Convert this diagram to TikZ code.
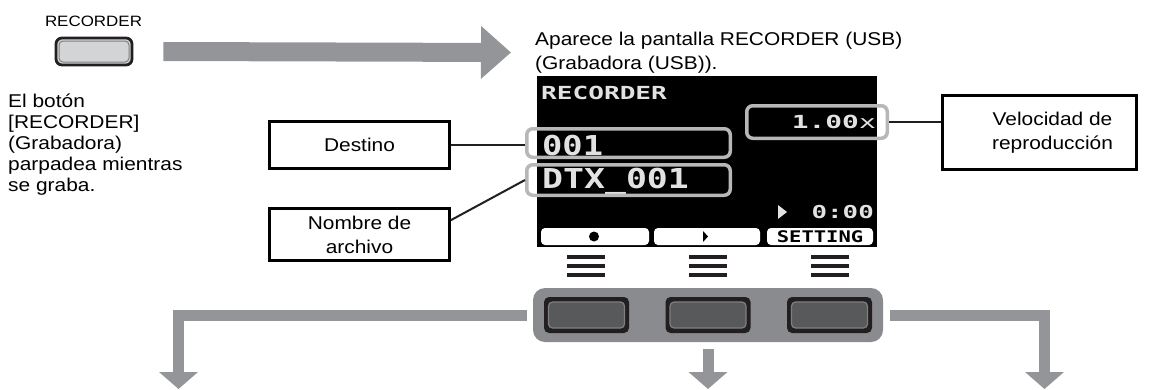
\documentclass[tikz,border=0pt]{standalone}
\usepackage{fontspec}
\usepackage{graphicx}
\setmainfont{Liberation Sans}[FakeStretch=1.13]
\newfontfamily\scrfont{DejaVu Sans Mono}
\usetikzlibrary{arrows.meta}
\definecolor{arrowgray}{HTML}{939598}
\definecolor{panelgray}{HTML}{8A8B8E}
\definecolor{scrtext}{HTML}{E2E2E2}
\definecolor{outl}{HTML}{B7B7B7}
\definecolor{btnface}{HTML}{58595B}
\definecolor{btnedge}{HTML}{7E7F81}
\definecolor{ink}{HTML}{231F20}
\definecolor{reclight}{HTML}{D3D4D6}
\newcommand{\sx}[2]{\scalebox{#1}[1]{#2}}
\begin{document}
\begin{tikzpicture}[x=1pt,y=-1pt,
  txt/.style={inner sep=0pt, font=\fontsize{18.5}{21}\selectfont},
  lbl/.style={draw=black, line width=2.6pt, align=center, inner sep=0pt,
    font=\fontsize{18.5}{24}\selectfont},
  conn/.style={draw=ink, line width=2pt},
  flow/.style={draw=arrowgray, line width=11pt, line join=miter,
    -{Triangle[width=38pt,length=17pt]}},
  hl/.style={draw=outl, line width=3.5pt, rounded corners=6pt, inner sep=0pt},
  scr/.style={inner sep=0pt, text=scrtext},
  tab/.style={fill=white, rounded corners=4pt, inner sep=0pt, minimum height=17pt},
  hwbtn/.style={fill=ink, rounded corners=5pt, minimum width=85pt, minimum height=36pt, inner sep=0pt},
  hwface/.style={fill=btnface, draw=btnedge, line width=1.2pt, rounded corners=4pt,
    minimum width=76pt, minimum height=26pt, inner sep=0pt},
  bars/.style={line width=3.7pt, draw=ink}
]
\useasboundingbox (0,0) rectangle (1159,389);

% recorder button
\node[txt, anchor=base, font=\fontsize{15}{18}\selectfont] (reclbl) at (93.5,26.7) {RECORDER};
\node[draw=ink, line width=2.8pt, fill=reclight, rounded corners=6pt,
  minimum width=76pt, minimum height=27pt, inner sep=0pt] (rec) at (94,51.5) {};
\node[draw=gray, line width=1pt, rounded corners=4pt,
  minimum width=70pt, minimum height=21pt, inner sep=0pt] (recin) at (94,51.5) {};

\foreach \t [count=\i] in {El botón, {[RECORDER]}, (Grabadora), parpadea mientras, se graba.}
  \node[txt, anchor=base west] (d\i) at (8, 107.5+21*\i-21) {\t};

% top arrow
\coordinate (tipT) at (511,52.5);
\draw[draw=arrowgray, line width=19pt, -{Triangle[width=51pt,length=30pt]}]
  ([xshift=30pt]rec.east) -- (tipT);

% caption
\node[txt, anchor=base west] (cap1) at (535,45) {Aparece la pantalla RECORDER (USB)};
\node[txt, anchor=base west] (cap2) at (535,69.5) {(Grabadora (USB)).};

% screen
\node[fill=black, minimum width=340pt, minimum height=171pt, inner sep=0pt] (screen) at (707,161.5) {};
\node[scr, anchor=base west, font=\scrfont\bfseries\fontsize{18}{20}\selectfont] (sTitle) at (541,99.3) {\sx{1.45}{RECORDER}};
\node[scr, anchor=base east, font=\scrfont\fontsize{18}{20}\selectfont] (sSpeed) at (876,128) {\sx{1.55}{\textbf{1.00}x}};
\node[scr, anchor=base west, font=\scrfont\bfseries\fontsize{27.4}{30}\selectfont] (sDest) at (542,155) {\sx{1.23}{001}};
\node[scr, anchor=base west, font=\scrfont\bfseries\fontsize{27.4}{30}\selectfont] (sName) at (542,188) {\sx{1.27}{DTX\_001}};
\node[scr, anchor=base east, font=\scrfont\bfseries\fontsize{17.8}{20}\selectfont] (sTime) at (874,218) {\sx{1.45}{0:00}};
\fill[scrtext] (778,205) -- (787,212) -- (778,219) -- cycle;

% soft tabs
\node[tab, minimum width=108pt] (tab1) at (595,236.5) {};
\node[tab, minimum width=106pt] (tab2) at (707,236.5) {};
\node[tab, minimum width=106pt] (tab3) at (820,236.5) {};
\fill[black] (594,236.5) circle (5pt);
\fill[black] (703,231) -- (708,236.5) -- (703,242) -- cycle;
\node[inner sep=0pt, anchor=base, font=\scrfont\bfseries\fontsize{16}{18}\selectfont] (sSet) at (820,242) {\sx{1.28}{SETTING}};

% highlight boxes
\node[hl, minimum width=140.5pt, minimum height=32.5pt] (hlSpeed) at (817,122) {};
\node[hl, minimum width=203.5pt, minimum height=28.5pt] (hlDest) at (628.5,143) {};
\node[hl, minimum width=203.5pt, minimum height=30.5pt] (hlName) at (628.5,180) {};

% labels
\node[lbl, minimum width=180pt, minimum height=47pt] (dest) at (359.5,145) {Destino};
\node[lbl, minimum width=180pt, minimum height=52pt] (name) at (359.5,234.5) {Nombre de\\archivo};
\node[lbl, minimum width=194pt, minimum height=74pt] (vel) at (1039.5,132.5)
  {\hspace*{26pt}Velocidad de\\\hspace*{26pt}reproducción};

\draw[conn] (dest.east) -- (hlDest.west |- dest.east);
\draw[conn] ([yshift=-13pt]name.north east) -- (hlName.west);
\draw[conn] (hlSpeed.east) -- (vel.west |- hlSpeed.east);

% bar marks
\foreach \cx in {586,708,830}
  \foreach \yy in {257,266,275}
    \draw[bars] (\cx-19,\yy) -- (\cx+19,\yy);

% button panel
\node[fill=panelgray, rounded corners=12pt, minimum width=350pt, minimum height=54pt, inner sep=0pt] (panel) at (708,315) {};
\foreach \bx [count=\i] in {586.5,708,829.5} {
  \node[hwbtn] (b\i) at (\bx,315) {};
  \node[hwface] (f\i) at (\bx,315) {};
}

% bottom arrows
\coordinate (outL) at (178.5,389);
\coordinate (outM) at (708,389);
\coordinate (outR) at (1044.5,389);
\draw[flow] ([xshift=-6pt]panel.west) -| (outL);
\draw[flow] ([yshift=-7pt]panel.south) -- (outM);
\draw[flow] ([xshift=7pt]panel.east) -| (outR);
\end{tikzpicture}
\end{document}
